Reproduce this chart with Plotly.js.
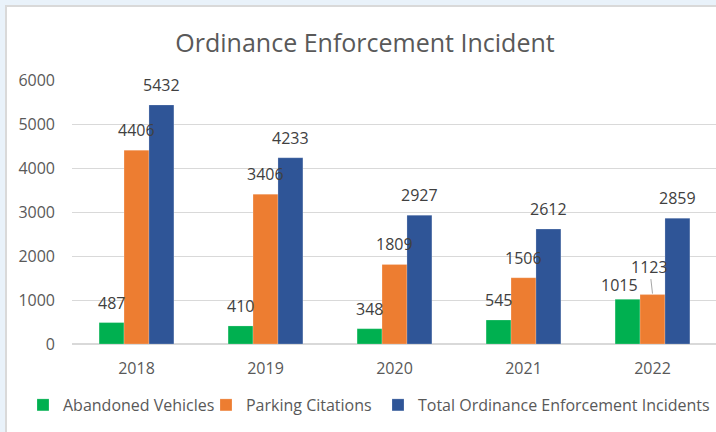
<!DOCTYPE html>
<html>
<head>
<meta charset="utf-8">
<script src="https://cdn.plot.ly/plotly-3.0.1.min.js"></script>
<style>
  html, body { margin: 0; padding: 0; width: 716px; height: 432px; overflow: hidden; background: #e9f2fa; }
  #frame { position: absolute; left: 5px; top: 5px; width: 712px; height: 430px; border: 2px solid #d9d9d9; background: #ffffff; }
  #chart { width: 712px; height: 430px; }
</style>
</head>
<body>
<div id="frame"><div id="chart"></div></div>
<script>
const years = ['2018', '2019', '2020', '2021', '2022'];
const seriesNames = ['Abandoned Vehicles', 'Parking Citations', 'Total Ordinance Enforcement Incidents'];
const abandonedVehicles = [487, 410, 348, 545, 1015];
const parkingCitations = [4406, 3406, 1809, 1506, 1123];
const totalIncidents = [5432, 4233, 2927, 2612, 2859];
const yTicks = [0, 1000, 2000, 3000, 4000, 5000, 6000];

const colors = ['#00b050', '#ed7d31', '#2f5597'];
const seriesValues = [abandonedVehicles, parkingCitations, totalIncidents];
const offsets = [-25, 0, 25];
const legendWidths = [138, 127, 300];

const traces = seriesValues.map((vals, i) => ({
  type: 'bar',
  name: seriesNames[i],
  x: years,
  y: vals,
  legendwidth: legendWidths[i],
  marker: { color: colors[i], line: { color: 'rgba(255,255,255,0.35)', width: 0.6 } },
  hoverinfo: 'x+y+name'
}));

const labelFont = { family: 'Open Sans, sans-serif', size: 16, color: '#404040' };
const annotations = [];
seriesValues.forEach((vals, i) => {
  vals.forEach((v, j) => {
    // category axis: annotation x given as the category index
    if (i === 1 && j === 4) {
      annotations.push({
        x: j, y: v, xref: 'x', yref: 'y',
        text: String(v), font: labelFont,
        showarrow: true, arrowhead: 0, arrowwidth: 1, arrowcolor: '#a6a6a6',
        ax: -3, ay: -27, standoff: 0, yshift: 1
      });
      return;
    }
    let xs = offsets[i], ys = 20;
    if (i === 0 && j === 4) { xs = -33; ys = 14; }
    annotations.push({
      x: j, y: v, xref: 'x', yref: 'y',
      text: String(v), font: labelFont,
      showarrow: false, xshift: xs, yshift: ys,
      xanchor: 'center', yanchor: 'middle'
    });
  });
});

const layout = {
  width: 712, height: 430,
  margin: { l: 65, r: 2, t: 73, b: 93, autoexpand: false },
  paper_bgcolor: '#ffffff',
  plot_bgcolor: '#ffffff',
  font: { family: 'Open Sans, sans-serif', size: 16, color: '#595959' },
  title: {
    text: 'Ordinance Enforcement Incident',
    font: { family: 'Open Sans, sans-serif', size: 25, color: '#595959' },
    xref: 'container', yref: 'container',
    x: 358 / 712, y: 1 - 36 / 430, xanchor: 'center', yanchor: 'middle'
  },
  barmode: 'group',
  bargap: 0.42,
  bargroupgap: 0,
  xaxis: {
    type: 'category',
    range: [-0.5, years.length - 0.5],
    showgrid: false, showline: false, ticks: '',
    tickfont: { family: 'Open Sans, sans-serif', size: 16, color: '#595959' },
    ticklabelstandoff: 13,
    fixedrange: true
  },
  yaxis: {
    range: [0, 6000],
    tickvals: yTicks,
    ticktext: yTicks.map(String),
    showgrid: true, gridcolor: '#d9d9d9', gridwidth: 1,
    zeroline: true, zerolinecolor: '#d9d9d9', zerolinewidth: 1.5,
    showline: false, ticks: '',
    tickfont: { family: 'Open Sans, sans-serif', size: 16, color: '#595959' },
    ticklabelstandoff: 16,
    fixedrange: true
  },
  showlegend: true,
  legend: {
    orientation: 'h',
    xref: 'paper', yref: 'paper',
    x: -0.076, xanchor: 'left',
    y: -0.231, yanchor: 'middle',
    font: { family: 'Open Sans, sans-serif', size: 16, color: '#595959' },
    itemwidth: 30,
    traceorder: 'normal',
    bgcolor: 'rgba(0,0,0,0)'
  },
  annotations: annotations
};

Plotly.newPlot('chart', traces, layout, { displayModeBar: false, staticPlot: true });
</script>
</body>
</html>
